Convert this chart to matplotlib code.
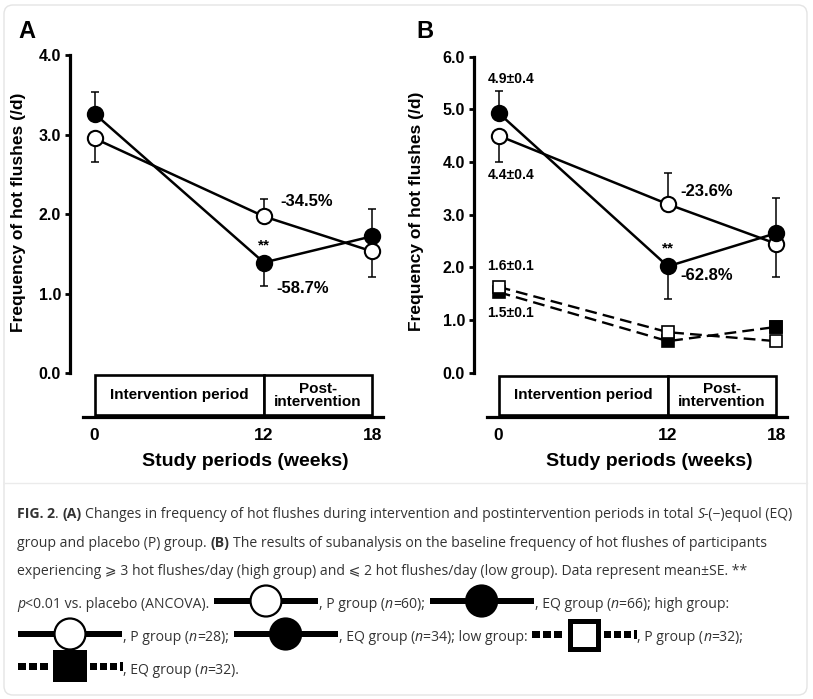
import numpy as np
import matplotlib
matplotlib.use("Agg")
import matplotlib.pyplot as plt
from matplotlib.patches import Rectangle, Circle, FancyBboxPatch
from matplotlib.font_manager import FontProperties
import matplotlib.transforms as mtransforms

# ---------------- data ----------------
weeks = [0, 12, 18]
xtick_labels = ["0", "12", "18"]

# Panel A (total groups)
a_p_mean = [2.95, 1.97, 1.53]
a_p_err_lo = [0.29, 0.00, 0.32]
a_p_err_hi = [0.00, 0.22, 0.00]
a_eq_mean = [3.26, 1.39, 1.72]
a_eq_err_lo = [0.00, 0.30, 0.00]
a_eq_err_hi = [0.27, 0.00, 0.34]
a_yticks = [0, 1, 2, 3, 4]

# Panel B (high / low subgroups)
b_hp_mean = [4.50, 3.20, 2.45]
b_hp_err_lo = [0.50, 0.00, 0.64]
b_hp_err_hi = [0.00, 0.59, 0.00]
b_heq_mean = [4.93, 2.02, 2.65]
b_heq_err_lo = [0.00, 0.62, 0.00]
b_heq_err_hi = [0.42, 0.00, 0.66]
b_lp_mean = [1.63, 0.77, 0.60]
b_leq_mean = [1.53, 0.60, 0.87]
b_yticks = [0, 1, 2, 3, 4, 5, 6]

W, H = 813, 699
CHART_FONT = ['Liberation Sans', 'DejaVu Sans']
CAP_FONT = ['Open Sans', 'DejaVu Sans']
CAP_COLOR = '#333333'

plt.rcParams['font.family'] = CHART_FONT
fig = plt.figure(figsize=(W / 100, H / 100), dpi=100)
fig.patch.set_facecolor('white')

# overlay in pixel coordinates
ov = fig.add_axes([0, 0, 1, 1], zorder=0)
ov.set_xlim(0, W)
ov.set_ylim(H, 0)
ov.axis('off')
ov.add_patch(FancyBboxPatch((4, 5), 803, 690, boxstyle="round,pad=0,rounding_size=9",
                            fc='white', ec='#e4e4e4', lw=1.0))
ov.plot([4, 807], [483, 483], color='#ebebeb', lw=1.0)

# nonlinear week axis (0-12 and 12-18 segments have different spacing)
K = 1.28
wk_pts = np.array([-100.0, 0.0, 12.0, 18.0, 100.0])
pos_pts = np.array([-100.0, 0.0, 12.0, 12 + 6 * K, 12 + 6 * K + 82 * K])
fwd = lambda x: np.interp(x, wk_pts, pos_pts)
inv = lambda p: np.interp(p, pos_pts, wk_pts)


def setup_axes(rect, ylim, yticks, letter, letter_x):
    ax = fig.add_axes(rect, zorder=2)
    ax.patch.set_alpha(0)
    ax.set_xscale('function', functions=(fwd, inv))
    ax.set_xlim(-1.75, 19.1)
    ax.set_ylim(*ylim)
    for s in ['top', 'right']:
        ax.spines[s].set_visible(False)
    ax.spines['left'].set_bounds(yticks[0], yticks[-1])
    ax.spines['left'].set_linewidth(2.3)
    ax.spines['bottom'].set_bounds(-0.85, 18.62)
    ax.spines['bottom'].set_linewidth(2.3)
    ax.set_yticks(yticks)
    ax.set_yticklabels([f"{v:.1f}" for v in yticks], fontweight='bold', fontsize=11.5)
    ax.tick_params(axis='y', direction='out', length=3.5, width=2.0, pad=3)
    ax.set_xticks(weeks)
    ax.set_xticklabels(xtick_labels, fontweight='bold', fontsize=12.5)
    ax.tick_params(axis='x', length=0, pad=8)
    ax.xaxis.set_minor_locator(matplotlib.ticker.NullLocator())
    ax.set_xlabel("Study periods (weeks)", fontweight='bold', fontsize=14)
    ax.set_ylabel("Frequency of hot flushes (/d)", fontweight='bold', fontsize=12.5)
    # period boxes
    tr = mtransforms.blended_transform_factory(ax.transData, ax.transAxes)
    for x0, x1, lab in [(weeks[0], weeks[1], "Intervention period"),
                        (weeks[1], weeks[2], "Post-\nintervention")]:
        ax.add_patch(Rectangle((x0, 0.006), x1 - x0, 0.109, transform=tr, fc='white',
                               ec='black', lw=1.9, clip_on=False, zorder=3))
        xm = inv((fwd(x0) + fwd(x1)) / 2)
        ax.text(xm, 0.06, lab, transform=tr, ha='center', va='center', fontsize=11,
                fontweight='bold', linespacing=0.92, zorder=4)
    ov.text(letter_x, 31.5, letter, fontsize=17, fontweight='bold', ha='left', va='center')
    return ax


fw = 322 / W
axA = setup_axes([70 / W, 1 - 417 / H, fw, (417 - 55) / H], (-0.553, 4.0), a_yticks, "A", 18)
axB = setup_axes([474 / W, 1 - 417 / H, fw, (417 - 56.7) / H], (-0.84, 6.0), b_yticks, "B", 416)

for ax, hgt in [(axA, 362), (axB, 360.3)]:
    ax.xaxis.set_label_coords(0.543, -(453 - 417) / hgt)

axA.yaxis.set_label_coords((26 - 70) / 322, (417 - 212) / 362)
axB.yaxis.set_label_coords((424 - 474) / 322, (417 - 211.5) / 360.3)

LW = 1.8
MS = 11
ebkw = dict(fmt='none', ecolor='black', elinewidth=1.1, capsize=3, capthick=1.1, zorder=2)

# ----- Panel A -----
axA.errorbar(weeks, a_eq_mean, yerr=[a_eq_err_lo, a_eq_err_hi], **ebkw)
axA.errorbar(weeks, a_p_mean, yerr=[a_p_err_lo, a_p_err_hi], **ebkw)
axA.plot(weeks, a_eq_mean, '-o', color='black', lw=LW, ms=MS, mfc='black', mec='black',
         mew=1.5, zorder=3)
axA.plot(weeks, a_p_mean, '-o', color='black', lw=LW, ms=MS, mfc='white', mec='black',
         mew=1.5, zorder=4)

annA = dict(textcoords='offset pixels', fontsize=12, fontweight='bold', va='center')
axA.annotate("-34.5%", xy=(weeks[1], a_p_mean[1]), xytext=(17, 15), ha='left', **annA)
axA.annotate("-58.7%", xy=(weeks[1], a_eq_mean[1]), xytext=(13, -26), ha='left', **annA)
axA.annotate("**", xy=(weeks[1], a_eq_mean[1]), xytext=(0, 17), ha='center',
             textcoords='offset pixels', fontsize=11, fontweight='bold', va='center')

# ----- Panel B -----
axB.errorbar(weeks, b_hp_mean, yerr=[b_hp_err_lo, b_hp_err_hi], **ebkw)
axB.errorbar(weeks, b_heq_mean, yerr=[b_heq_err_lo, b_heq_err_hi], **ebkw)
axB.plot(weeks, b_hp_mean, '-o', color='black', lw=LW, ms=MS, mfc='white', mec='black',
         mew=1.5, zorder=3)
axB.plot(weeks, b_heq_mean, '-o', color='black', lw=LW, ms=MS, mfc='black', mec='black',
         mew=1.5, zorder=4)
dash = (0, (5, 2.6))
axB.plot(weeks, b_leq_mean, linestyle=dash, color='black', lw=1.7, marker='s', ms=8.5,
         mfc='black', mec='black', mew=1.2, zorder=5)
axB.plot(weeks, b_lp_mean, linestyle=dash, color='black', lw=1.7, marker='s', ms=8.5,
         mfc='white', mec='black', mew=1.2, zorder=6)
axB.plot(weeks[2:], b_leq_mean[2:], 's', ms=8.5, mfc='black', mec='black', mew=1.2, zorder=7)

axB.annotate("-23.6%", xy=(weeks[1], b_hp_mean[1]), xytext=(13, 13), ha='left', **annA)
axB.annotate("-62.8%", xy=(weeks[1], b_heq_mean[1]), xytext=(13, -9), ha='left', **annA)
axB.annotate("**", xy=(weeks[1], b_heq_mean[1]), xytext=(0, 18), ha='center',
             textcoords='offset pixels', fontsize=11, fontweight='bold', va='center')
annS = dict(textcoords='offset pixels', fontsize=10, fontweight='bold', va='center', ha='center')
axB.annotate("4.9±0.4", xy=(weeks[0], b_heq_mean[0]), xytext=(12, 34), **annS)
axB.annotate("4.4±0.4", xy=(weeks[0], b_hp_mean[0]), xytext=(12, -39), **annS)
axB.annotate("1.6±0.1", xy=(weeks[0], b_lp_mean[0]), xytext=(12, 21), **annS)
axB.annotate("1.5±0.1", xy=(weeks[0], b_leq_mean[0]), xytext=(12, -21), **annS)

# ---------------- caption ----------------
renderer = fig.canvas.get_renderer()


def prop_for(style, size):
    fp = FontProperties(family=CAP_FONT, size=size)
    if style == 'b':
        fp.set_weight('bold')
    if style == 'i':
        fp.set_style('italic')
    return fp


def tw(s, fp):
    a = renderer.get_text_width_height_descent("|" + s + "|", fp, False)[0]
    b = renderer.get_text_width_height_descent("||", fp, False)[0]
    return a - b


def sym_circle(x0, yc, filled):
    ov.add_patch(Rectangle((x0, yc - 3.2), 104, 6.4, fc='black', ec='none', zorder=5))
    ov.add_patch(Circle((x0 + 52, yc), 15.5, fc='black' if filled else 'white', ec='black',
                        lw=1.6, zorder=6))
    return 104


def sym_square(x0, yc, filled):
    for i in range(3):
        ov.add_patch(Rectangle((x0 + i * 11, yc - 3.5), 8, 7, fc='black', ec='none', zorder=5))
    if filled:
        ov.add_patch(Rectangle((x0 + 35, yc - 16), 34, 32, fc='black', ec='none', zorder=6))
    else:
        ov.add_patch(Rectangle((x0 + 37.5, yc - 13.5), 28, 28, fc='white', ec='black',
                               lw=3.6, zorder=6))
    for i in range(3):
        ov.add_patch(Rectangle((x0 + 72 + i * 10, yc - 3.5), 7, 7, fc='black', ec='none',
                               zorder=5))
    ov.add_patch(Rectangle((x0 + 102, yc - 4.5), 2.5, 9, fc='black', ec='none', zorder=5))
    return 104


def layout(runs, x0, yc, size, ysym=None, draw=True):
    x = x0
    ysym = yc - 2 if ysym is None else ysym
    for r in runs:
        if r[0] == 'sym':
            if draw:
                x += r[1](x + 1, ysym, r[2]) + 2
            else:
                x += 106
            continue
        s, st = r
        fp = prop_for(st, size)
        sp = tw(" ", fp)
        lead = len(s) - len(s.lstrip(' '))
        trail = len(s) - len(s.rstrip(' '))
        core = s.strip(' ')
        x += lead * sp
        if draw and core:
            ov.text(x, yc + 5, core, fontproperties=fp, color=CAP_COLOR, ha='left',
                    va='baseline', zorder=7)
        x += tw(core, fp) if core else 0
        x += trail * sp
    return x


line1 = [("FIG. 2", 'b'), (". ", 'n'), ("(A)", 'b'),
         (" Changes in frequency of hot flushes during intervention and postintervention "
          "periods in total ", 'n'), ("S", 'i'), ("-(\u2212)equol (EQ)", 'n')]
line2 = [("group and placebo (P) group. ", 'n'), ("(B)", 'b'),
         (" The results of subanalysis on the baseline frequency of hot flushes of participants", 'n')]
line3 = [("experiencing \u2a7e 3 hot flushes/day (high group) and \u2a7d 2 hot flushes/day "
          "(low group). Data represent mean\u00b1SE. **", 'n')]
line4 = [("p", 'i'), ("<0.01 vs. placebo (ANCOVA). ", 'n'), ('sym', sym_circle, False),
         (", P group (", 'n'), ("n", 'i'), ("=60); ", 'n'), ('sym', sym_circle, True),
         (", EQ group (", 'n'), ("n", 'i'), ("=66); high group:", 'n')]
line5 = [('sym', sym_circle, False), (", P group (", 'n'), ("n", 'i'), ("=28); ", 'n'),
         ('sym', sym_circle, True), (", EQ group (", 'n'), ("n", 'i'),
         ("=34); low group: ", 'n'), ('sym', sym_square, False), (", P group (", 'n'),
         ("n", 'i'), ("=32);", 'n')]
line6 = [('sym', sym_square, True), (", EQ group (", 'n'), ("n", 'i'), ("=32).", 'n')]

base = 10.0
wline = layout(line1, 0, 0, base, draw=False)
cap_size = base * 776.0 / wline

layout(line1, 17, 513, cap_size)
layout(line2, 17, 542, cap_size)
layout(line3, 17, 570, cap_size)
layout(line4, 17, 603, cap_size, ysym=601)
layout(line5, 17, 636, cap_size, ysym=634)
layout(line6, 17, 669, cap_size, ysym=666)

fig.savefig("out.png", dpi=100, facecolor='white')
